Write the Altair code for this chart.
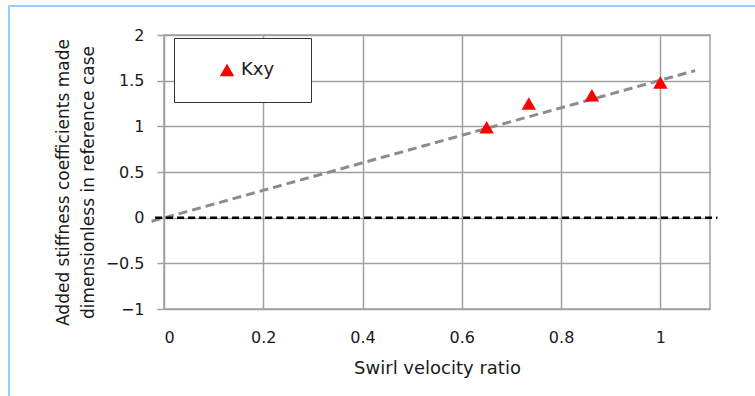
import altair as alt
import pandas as pd

# Measured points (Kxy)
swirl_ratio = [0.65, 0.735, 0.862, 1.0]
kxy_values = [0.99, 1.25, 1.34, 1.48]
series_name = ["Kxy", "Kxy", "Kxy", "Kxy"]

# Trend line (gray dashed) endpoints
trend_x = [-0.025, 1.07]
trend_y = [-0.04, 1.61]

# Zero reference line (black dashed)
zero_x = [-0.018, 1.115]
zero_y = [0.0, 0.0]

x_ticks = [0, 0.2, 0.4, 0.6, 0.8, 1.0]
y_ticks = [-1, -0.5, 0, 0.5, 1, 1.5, 2]

pts = pd.DataFrame({"x": swirl_ratio, "y": kxy_values, "series": series_name})
trend = pd.DataFrame({"x": trend_x, "y": trend_y})
zero = pd.DataFrame({"x": zero_x, "y": zero_y})

FONT = "DejaVu Sans"

xscale = alt.Scale(domain=[0, 1.1], nice=False, zero=False)
yscale = alt.Scale(domain=[-1, 2], nice=False, zero=False)

xenc = alt.X(
    "x:Q", scale=xscale,
    axis=alt.Axis(values=x_ticks, title="Swirl velocity ratio",
                  labelExpr="datum.value == 1 ? '1' : format(datum.value, '.1~f')",
                  titlePadding=14, labelPadding=20, ticks=False, domain=False,
                  titleFontSize=18),
)
yenc = alt.Y(
    "y:Q", scale=yscale,
    axis=alt.Axis(values=y_ticks,
                  title=["Added stiffness coefficients made", "dimensionless in reference case"],
                  labelExpr="replace(format(datum.value, '.1~f'), '-', '\u2212')",
                  ticks=True, tickSize=7, labelPadding=13, domain=False,
                  titleX=-92, titleY=147, titleFontSize=17),
)

trend_line = alt.Chart(trend).mark_line(
    color="#8c8c8c", strokeWidth=3, strokeDash=[9, 5]
).encode(x=xenc, y=yenc)

zero_line = alt.Chart(zero).mark_line(
    color="#000000", strokeWidth=2.5, strokeDash=[7, 4]
).encode(x=alt.X("x:Q", scale=xscale), y=alt.Y("y:Q", scale=yscale))

leg = alt.Legend(title=None, orient="none", legendX=10, legendY=3,
                 labelExpr="datum.label + '\u2800'")

points = alt.Chart(pts).mark_point(filled=True, opacity=1, size=210).encode(
    x=alt.X("x:Q", scale=xscale),
    y=alt.Y("y:Q", scale=yscale),
    color=alt.Color("series:N", scale=alt.Scale(range=["#ff0000"]), legend=leg),
    shape=alt.Shape("series:N", scale=alt.Scale(range=["triangle-up"]), legend=leg),
)

frame_top = alt.Chart(pts).mark_rule(color="#99ccff", strokeWidth=2).encode(
    x=alt.value(-156), x2=alt.value(600), y=alt.value(-29)
)
frame_left = alt.Chart(pts).mark_rule(color="#99ccff", strokeWidth=2).encode(
    x=alt.value(-155), y=alt.value(-29), y2=alt.value(370)
)

chart = alt.layer(trend_line, zero_line, points, frame_top, frame_left).properties(
    width=546, height=274,
    autosize=alt.AutoSizeParams(type="none"),
    padding={"left": 164, "top": 35, "right": 45, "bottom": 87},
    background="white",
).configure_view(
    stroke="#a0a0a0", strokeWidth=1.5
).configure_axis(
    grid=True, gridColor="#a0a0a0", gridWidth=1.5, gridOpacity=1,
    tickColor="#a0a0a0", tickWidth=1.5,
    labelFont=FONT, labelFontSize=16, labelColor="#1a1a1a",
    titleFont=FONT, titleFontWeight="normal", titleColor="#1a1a1a",
    titleLineHeight=25,
).configure_legend(
    fillColor="white", strokeColor="#333333", padding=23, symbolOffset=21,
    labelFont=FONT, labelFontSize=18, labelColor="#1a1a1a", labelOffset=5,
    symbolSize=210, symbolType="triangle-up", symbolStrokeWidth=0,
)

chart.save("out.html", embed_options={"renderer": "svg", "actions": False})
